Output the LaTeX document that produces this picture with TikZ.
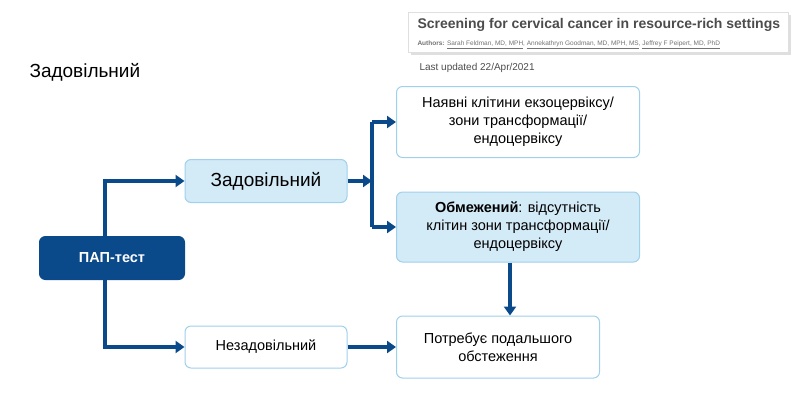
\documentclass[tikz,border=0pt]{standalone}
\usepackage{fontspec}
\setmainfont{Liberation Sans}
\usetikzlibrary{positioning,arrows.meta,shadows}
\definecolor{papblue}{HTML}{0B4A8A}
\definecolor{lightfill}{HTML}{D3EAF7}
\definecolor{lightedge}{HTML}{9FD0EC}
\tikzset{
	box/.style = {draw=lightedge, line width=1pt, rounded corners=6pt, fill=white, align=center, font=\fontsize{14.5}{18}\selectfont},
	filled/.style = {box, fill=lightfill},
	link/.style = {draw=papblue, line width=3.4pt, -{Triangle[length=9pt,width=12pt]}}
}
\begin{document}
\begin{tikzpicture}[x=1pt, y=-1pt, node distance=1]
\useasboundingbox (0,0) rectangle (799,400);

% NODES
% header
\node (ref) [draw=gray!25, fill=white, drop shadow={opacity=.25}, minimum width=380, minimum height=40, anchor=north west] at (408,12) {};
\node (reftitle) [anchor=west, text=black!70, font=\bfseries\fontsize{14}{16}\selectfont] at (414,25) {Screening for cervical cancer in resource-rich settings};
\node (refauth) [anchor=west, text=black!55, font=\fontsize{6.5}{8}\selectfont] at (414,45) {\textbf{Authors:} \underline{Sarah Feldman, MD, MPH}, \underline{Annekathryn Goodman, MD, MPH, MS}, \underline{Jeffrey F Peipert, MD, PhD}};
\node (refdate) [anchor=west, text=black!70, font=\fontsize{10}{12}\selectfont] at (416,68) {Last updated 22/Apr/2021};
\node (title) [anchor=west, font=\fontsize{19}{22}\selectfont] at (26,72) {Задовільний};
% tree
\node (pap) [box, draw=papblue, fill=papblue, text=white, font=\bfseries\fontsize{14.5}{18}\selectfont, minimum width=145, minimum height=43] at (112,258) {ПАП-тест};
\node (sat) [filled, font=\fontsize{19}{22}\selectfont, minimum width=162, minimum height=43] at (266,181) {Задовільний};
\node (unsat) [box, minimum width=162, minimum height=42] at (266,347) {Незадовільний};
\node (cells) [box, minimum width=243, minimum height=71] at (518,122) {Наявні клітини екзоцервіксу/\\зони трансформації/\\ендоцервіксу};
\node (limit) [filled, minimum width=243, minimum height=70] at (518,227) {\textbf{Обмежений}: відсутність\\клітин зони трансформації/\\ендоцервіксу};
\node (more) [box, minimum width=203, minimum height=62] at (498,347) {Потребує подальшого\\обстеження};
\coordinate (fork) at (372,181);

%CONNECTIONS
\draw [link] (pap.north -| 105,0) |- (sat);
\draw [link] (pap.south -| 105,0) |- (unsat);
\draw [link] (sat) -- (fork);
\draw [draw=papblue, line width=3.4pt] (fork |- cells) -- (fork |- limit);
\draw [link] (fork |- cells) -- (cells);
\draw [link] (fork |- limit) -- (limit);
\draw [link] (unsat) -- (more);
\draw [link] (limit.south -| 510,0) -- (510,0 |- more.north);
\end{tikzpicture}
\end{document}
